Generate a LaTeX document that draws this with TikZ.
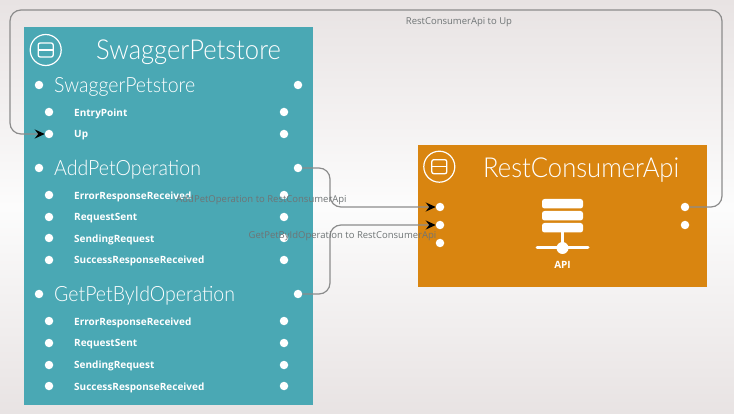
\documentclass[tikz,border=0pt]{standalone}
\usepackage{fontspec}
\setmainfont{Open Sans}
\newfontfamily\lightf{Lato Light}[FakeStretch=0.93]
\usetikzlibrary{arrows.meta,shadings}
\definecolor{bluebox}{HTML}{4AA8B4}
\definecolor{orangebox}{HTML}{D98510}
\definecolor{wire}{HTML}{8C8C8C}
\definecolor{wirelabel}{HTML}{6F7475}
\definecolor{bgedge}{HTML}{E8E3E3}
\definecolor{bgmid}{HTML}{FCFCFC}
\tikzset{
  dot/.style={circle,fill=white,draw=none,inner sep=0pt,minimum size=8.5pt,outer sep=0pt},
  smalltext/.style={anchor=west,inner sep=0pt,text=white,font=\fontsize{10}{12}\selectfont\bfseries},
  subtitle/.style={anchor=west,inner sep=0pt,text=white,font=\lightf\fontsize{21}{24}\selectfont},
  maintitle/.style={anchor=west,inner sep=0pt,text=white,font=\lightf\fontsize{27.5}{30}\selectfont},
  wirelab/.style={anchor=center,inner sep=0pt,text=wirelabel,font=\fontsize{9.5}{11}\selectfont},
  wireline/.style={draw=wire,line width=1.2pt,rounded corners=11pt},
  arrowed/.style={-{Stealth[black,length=10pt,width=9pt,inset=3.5pt]}}
}
\newcommand{\collapseicon}[2]{%
  \draw[white,line width=1.2pt] (#1,#2) circle (15.5);
  \draw[white,line width=1.3pt,rounded corners=2pt] (#1-7.5,#2-7) rectangle (#1+7.5,#2+7);
  \draw[white,line width=1.3pt] (#1-7.5,#2) -- (#1+7.5,#2);
}
\begin{document}
\begin{tikzpicture}[x=1pt,y=-1pt]
\useasboundingbox (0,0) rectangle (734,414);
\fill[top color=bgedge,bottom color=bgmid] (0,0) rectangle (734,207);
\fill[top color=bgmid,bottom color=bgedge] (0,207) rectangle (734,414);
% blue container
\fill[bluebox] (24,27) rectangle (313,405);
\collapseicon{45.7}{50}
\node[maintitle] (t1) at (96,52) {SwaggerPetstore};
\node[subtitle] (s1) at (54,87) {SwaggerPetstore};
\node[subtitle] (s2) at (54,170) {AddPetOperation};
\node[subtitle] (s3) at (54,296) {GetPetByIdOperation};
\node[dot] (s1l) at (39,85) {}; \node[dot] (s1r) at (298,85) {};
\node[dot] (s2l) at (39,168) {}; \node[dot] (s2r) at (298,168) {};
\node[dot] (s3l) at (39,294) {}; \node[dot] (s3r) at (298,294) {};
\foreach \nm/\yy/\ty/\tx in {a/112/113.5/EntryPoint,up/134/135/Up,
  b/195/196.5/ErrorResponseReceived,c/217/218/RequestSent,d/238/239.5/SendingRequest,e/260/261/SuccessResponseReceived,
  f/321/322.5/ErrorResponseReceived,g/343/344/RequestSent,h/365/366/SendingRequest,i/386/387.5/SuccessResponseReceived}{
  \node[dot] (\nm-l) at (49,\yy) {};
  \node[dot] (\nm-r) at (284,\yy) {};
  \node[smalltext] (\nm-t) at (74,\ty) {\tx};
}
% orange container
\fill[orangebox] (418,145) rectangle (707,287);
\collapseicon{439.3}{166.7}
\node[maintitle] (t2) at (483,170) {RestConsumerApi};
\node[dot] (o1) at (440,207) {};
\node[dot] (o2) at (440,225) {};
\node[dot] (o3) at (440,243) {};
\node[dot] (p1) at (685,207) {};
\node[dot] (p2) at (685,225) {};
% API icon
\foreach \yy in {199,211,223}{
  \fill[white,rounded corners=2.5pt] (542,\yy) rectangle (583,\yy+9.5);
}
\draw[white,line width=2.6pt] (562.5,232) -- (562.5,248);
\draw[white,line width=3pt,line cap=round] (537,248) -- (588,248);
\fill[white] (562.5,248) circle (6);
\node[inner sep=0pt,text=white,font=\fontsize{10}{12}\selectfont\bfseries] (api) at (562.5,264.5) {API};
% connectors
\coordinate (c1a) at (722,207); \coordinate (c1b) at (722,10);
\coordinate (c1c) at (10,10); \coordinate (c1d) at (10,134);
\draw[wireline,arrowed] (p1) -- (c1a) -- (c1b) -- (c1c) -- (c1d) -- (up-l);
\coordinate (c2a) at (330,168); \coordinate (c2b) at (330,207);
\draw[wireline,arrowed] (s2r) -- (c2a) -- (c2b) -- (o1);
\coordinate (c3a) at (330,294); \coordinate (c3b) at (330,225);
\draw[wireline,arrowed] (s3r) -- (c3a) -- (c3b) -- (o2);
% connector labels
\node[wirelab] (l1) at (459,22) {RestConsumerApi to Up};
\node[wirelab] (l2) at (261.5,200) {AddPetOperation to RestConsumerApi};
\node[wirelab] (l3) at (342.5,236) {GetPetByIdOperation to RestConsumerApi};
\end{tikzpicture}
\end{document}
